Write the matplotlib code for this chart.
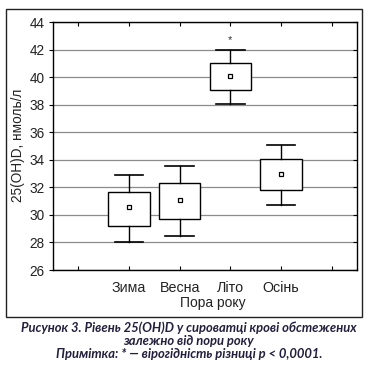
import matplotlib
matplotlib.use("Agg")
import matplotlib.pyplot as plt
from matplotlib import font_manager
from matplotlib.lines import TICKLEFT
from matplotlib.patches import Rectangle

seasons = ['Зима', 'Весна', 'Літо', 'Осінь']
means = [30.55, 31.1, 40.1, 33.0]
box_lo = [29.2, 29.7, 39.1, 31.8]
box_hi = [31.65, 32.3, 41.05, 34.05]
whisk_lo = [28.0, 28.5, 38.05, 30.75]
whisk_hi = [32.9, 33.55, 42.0, 35.1]
star_idx = 2
star_y = 42.7

plt.rcParams['font.family'] = 'Liberation Sans'

# caption font: fixed file so it doesn't touch the axis text
cap_path = font_manager.findfont(font_manager.FontProperties(
    family='Lato', weight='bold', style='italic'))
cap_prop = font_manager.FontProperties(fname=cap_path, size=9.4)

fig = plt.figure(figsize=(3.69, 3.68), dpi=100)
ax = fig.add_axes([53/369, 1 - 270/368, 304/369, 248/368])

stats = []
for i in range(len(seasons)):
    stats.append(dict(med=means[i], q1=box_lo[i], q3=box_hi[i],
                      whislo=whisk_lo[i], whishi=whisk_hi[i], mean=means[i],
                      fliers=[], label=seasons[i]))

ax.bxp(stats, positions=[1, 2, 3, 4], widths=0.82, capwidths=0.56,
       showmeans=True, meanline=False, showfliers=False, patch_artist=True,
       boxprops=dict(facecolor='white', edgecolor='black', linewidth=1.0),
       whiskerprops=dict(color='black', linewidth=1.0),
       capprops=dict(color='black', linewidth=1.2),
       medianprops=dict(visible=False),
       meanprops=dict(marker='s', markersize=3.2, markerfacecolor='white',
                      markeredgecolor='black', markeredgewidth=0.9))

ax.text(star_idx + 1, star_y, '*', ha='center', va='center', fontsize=8,
        color='#333333')

ax.set_xlim(-0.5, 5.5)
ax.set_ylim(26, 44)
ax.set_yticks(range(26, 45, 2))
ax.set_xticks(range(6))
ax.set_xticklabels([''] + seasons + [''])
ax.yaxis.grid(True, color='#8c8c8c', linewidth=0.9)
ax.set_axisbelow(True)

ax.tick_params(axis='x', direction='in', length=3, top=True, pad=8,
               labelsize=10.3, labelcolor='#222222')
ax.tick_params(axis='y', direction='out', length=3, right=True, pad=3,
               labelsize=9.8, labelcolor='#222222')
for t in ax.yaxis.get_major_ticks():
    t.tick2line.set_marker(TICKLEFT)
for s in ax.spines.values():
    s.set_linewidth(1.0)

fig.text(213/369, 1 - 303/368, 'Пора року', ha='center', va='center',
         fontsize=10, color='#222222')
fig.text(18/369, 1 - 145.5/368, '25(OH)D, нмоль/л', ha='center', va='center',
         rotation=90, fontsize=9.8, color='#222222')

fig.patches.append(Rectangle((6/369, 1 - 317/368), 356/369, 308/368,
                             transform=fig.transFigure, fill=False,
                             edgecolor='#222222', linewidth=1.0))

caption = ['Рисунок 3. Рівень 25(OH)D у сироватці крові обстежених',
           'залежно від пори року',
           'Примітка: * — вірогідність різниці p < 0,0001.']
cap_base = [332, 345, 358]
for line, y in zip(caption, cap_base):
    fig.text(189/369, 1 - y/368, line, ha='center', va='baseline',
             fontproperties=cap_prop, color='#241f3d')

fig.savefig('out.png', dpi=100)
